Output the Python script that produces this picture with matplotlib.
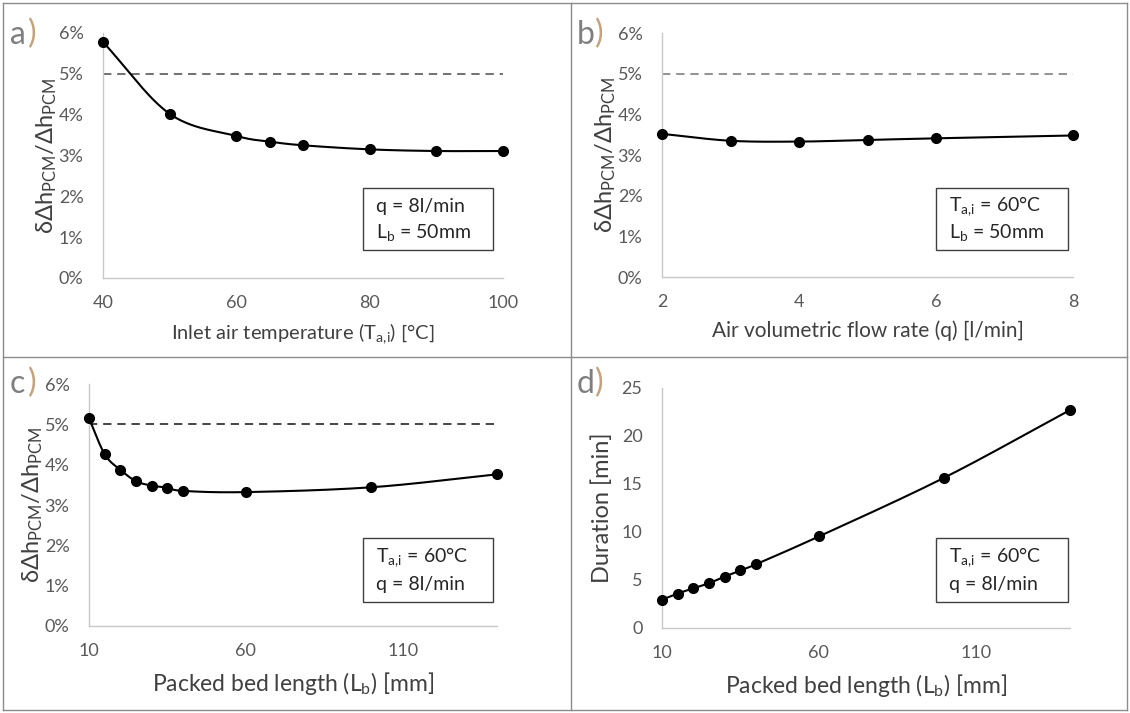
import numpy as np
import matplotlib
matplotlib.use('Agg')
import matplotlib.pyplot as plt
from matplotlib.patches import Rectangle
from matplotlib.lines import Line2D
from matplotlib.ticker import FuncFormatter, MultipleLocator

FONT = 'Lato'
plt.rcParams['font.family'] = [FONT, 'DejaVu Sans']
plt.rcParams['mathtext.fontset'] = 'custom'
plt.rcParams['mathtext.rm'] = FONT
plt.rcParams['mathtext.it'] = FONT + ':italic'
plt.rcParams['mathtext.bf'] = FONT + ':bold'

# ---------------- data ----------------
temp_a = [40, 50, 60, 65, 70, 80, 90, 100]
err_a = [5.78, 4.02, 3.48, 3.34, 3.25, 3.15, 3.11, 3.11]

flow_b = [2, 3, 4, 5, 6, 8]
err_b = [3.52, 3.35, 3.33, 3.37, 3.41, 3.48]

len_c = [10, 15, 20, 25, 30, 35, 40, 60, 100, 140]
err_c = [5.15, 4.26, 3.87, 3.59, 3.48, 3.43, 3.35, 3.32, 3.44, 3.76]

len_d = [10, 15, 20, 25, 30, 35, 40, 60, 100, 140]
dur_d = [2.96, 3.59, 4.14, 4.67, 5.36, 5.99, 6.65, 9.54, 15.67, 22.7]

threshold = 5.0

W, H = 1130, 713
fig = plt.figure(figsize=(W / 100, H / 100), dpi=100)

TICK_C = '#595959'
LAB_C = '#404040'
SPINE_C = '#c8c8c8'


def ax_at(l, r, t, b):
    return fig.add_axes([l / W, 1 - b / H, (r - l) / W, (b - t) / H])


def smooth(ax, xs, ys, n=30):
    """Catmull-Rom spline through the points in display-normalized space."""
    xs = np.asarray(xs, float)
    ys = np.asarray(ys, float)
    x0, x1 = ax.get_xlim()
    y0, y1 = ax.get_ylim()
    px = (xs - x0) / (x1 - x0)
    py = (ys - y0) / (y1 - y0)
    P = np.column_stack([px, py])
    P = np.vstack([P[0] - (P[1] - P[0]), P, P[-1] + (P[-1] - P[-2])])
    out = []
    for i in range(1, len(P) - 2):
        p0, p1, p2, p3 = P[i - 1], P[i], P[i + 1], P[i + 2]
        t = np.linspace(0, 1, n, endpoint=(i == len(P) - 3))[:, None]
        seg = 0.5 * ((2 * p1) + (-p0 + p2) * t + (2 * p0 - 5 * p1 + 4 * p2 - p3) * t ** 2
                     + (-p0 + 3 * p1 - 3 * p2 + p3) * t ** 3)
        out.append(seg)
    S = np.vstack(out)
    return S[:, 0] * (x1 - x0) + x0, S[:, 1] * (y1 - y0) + y0


def style(ax):
    for s in ['top', 'right']:
        ax.spines[s].set_visible(False)
    for s in ['left', 'bottom']:
        ax.spines[s].set_color(SPINE_C)
        ax.spines[s].set_linewidth(1.0)
    ax.tick_params(length=0, labelsize=13, colors=TICK_C)
    ax.tick_params(axis='y', pad=14)
    ax.tick_params(axis='x', pad=12)
    ax.set_facecolor('none')


def draw(ax, xs, ys, dashed=True, dcolor='#595959'):
    if dashed:
        ax.axhline(threshold, color=dcolor, lw=1.2, ls=(0, (5, 3.5)), zorder=1)
    sx, sy = smooth(ax, xs, ys)
    ax.plot(sx, sy, color='black', lw=1.5, zorder=2, clip_on=False)
    ax.plot(xs, ys, 'o', color='black', ms=7, zorder=3, clip_on=False)


pct = FuncFormatter(lambda v, p: f'{v:.0f}%')
ylab = r'$\mathrm{δΔh}_{\mathrm{PCM}}\mathrm{/Δh}_{\mathrm{PCM}}$'
YL = 17

# panel a
ax = ax_at(103, 503, 33, 278)
ax.set_xlim(40, 100); ax.set_ylim(0, 6)
ax.xaxis.set_major_locator(MultipleLocator(20))
ax.yaxis.set_major_locator(MultipleLocator(1))
ax.yaxis.set_major_formatter(pct)
style(ax)
draw(ax, temp_a, err_a)
ax.set_xlabel(r'Inlet air temperature (T$_{\mathrm{a,\!i}}$) [°C]', fontsize=14.5, color=LAB_C, labelpad=8)
ax.set_ylabel(ylab, fontsize=YL, color=LAB_C, labelpad=0)

# panel b
ax = ax_at(662, 1073, 33, 277)
ax.set_xlim(2, 8); ax.set_ylim(0, 6)
ax.xaxis.set_major_locator(MultipleLocator(2))
ax.yaxis.set_major_locator(MultipleLocator(1))
ax.yaxis.set_major_formatter(pct)
style(ax)
draw(ax, flow_b, err_b, dcolor='#7f7f7f')
ax.set_xlabel('Air volumetric flow rate (q) [l/min]', fontsize=15, color=LAB_C, labelpad=8)
ax.set_ylabel(ylab, fontsize=YL, color=LAB_C, labelpad=0)

# panel c
ax = ax_at(89, 497, 384, 626)
ax.set_xlim(10, 140); ax.set_ylim(0, 6)
ax.set_xticks([10, 60, 110])
ax.yaxis.set_major_locator(MultipleLocator(1))
ax.yaxis.set_major_formatter(pct)
style(ax)
draw(ax, len_c, err_c, dcolor='#262626')
ax.set_xlabel(r'Packed bed length (L$_{\mathrm{b}}$) [mm]', fontsize=16.5, color=LAB_C, labelpad=8)
ax.set_ylabel(ylab, fontsize=YL, color=LAB_C, labelpad=0)

# panel d
ax = ax_at(662, 1070, 388, 628)
ax.set_xlim(10, 140); ax.set_ylim(0, 25)
ax.set_xticks([10, 60, 110])
ax.yaxis.set_major_locator(MultipleLocator(5))
style(ax)
draw(ax, len_d, dur_d, dashed=False)
ax.set_xlabel(r'Packed bed length (L$_{\mathrm{b}}$) [mm]', fontsize=16.5, color=LAB_C, labelpad=8)
ax.set_ylabel('Duration [min]', fontsize=YL, color=LAB_C, labelpad=6)

# info boxes
boxes = [
    ((363, 188, 493, 250), ['q = 8l/min', r'L$_{\mathrm{b}}$ = 50mm']),
    ((936, 188, 1068, 250), [r'T$_{\mathrm{a,\!i}}$ = 60°C', r'L$_{\mathrm{b}}$ = 50mm']),
    ((363, 538, 493, 602), [r'T$_{\mathrm{a,\!i}}$ = 60°C', 'q = 8l/min']),
    ((936, 538, 1068, 602), [r'T$_{\mathrm{a,\!i}}$ = 60°C', 'q = 8l/min']),
]
for (l, t, r, b), lines in boxes:
    fig.add_artist(Rectangle((l / W, 1 - b / H), (r - l) / W, (b - t) / H,
                             transform=fig.transFigure, fill=False,
                             edgecolor='#404040', lw=1.0))
    for i, s in enumerate(lines):
        yy = t + (b - t) * (0.3 + 0.42 * i)
        fig.text((l + 13) / W, 1 - yy / H, s, fontsize=14, color='#262626',
                 ha='left', va='center')

# panel letters
for lab, x, y in [('a', 10, 35), ('b', 577, 35), ('c', 10, 384), ('d', 577, 384)]:
    fig.text(x / W, 1 - y / H, lab, fontsize=23, color='#7f7f7f', ha='left', va='center')
    fig.text((x + 18) / W, 1 - (y - 1) / H, ')', fontsize=23, color='#c4a27a', ha='left', va='center')

# panel frames
fc = '#8c8c8c'
for seg in [((3, 3), (1127, 3)), ((3, 710), (1127, 710)), ((3, 3), (3, 710)),
            ((1127, 3), (1127, 710)), ((571, 3), (571, 710)), ((3, 357), (1127, 357))]:
    (xa, ya), (xb, yb) = seg
    fig.add_artist(Line2D([xa / W, xb / W], [1 - ya / H, 1 - yb / H],
                          transform=fig.transFigure, color=fc, lw=1.0))

fig.savefig('out.png', dpi=100, facecolor='white')
